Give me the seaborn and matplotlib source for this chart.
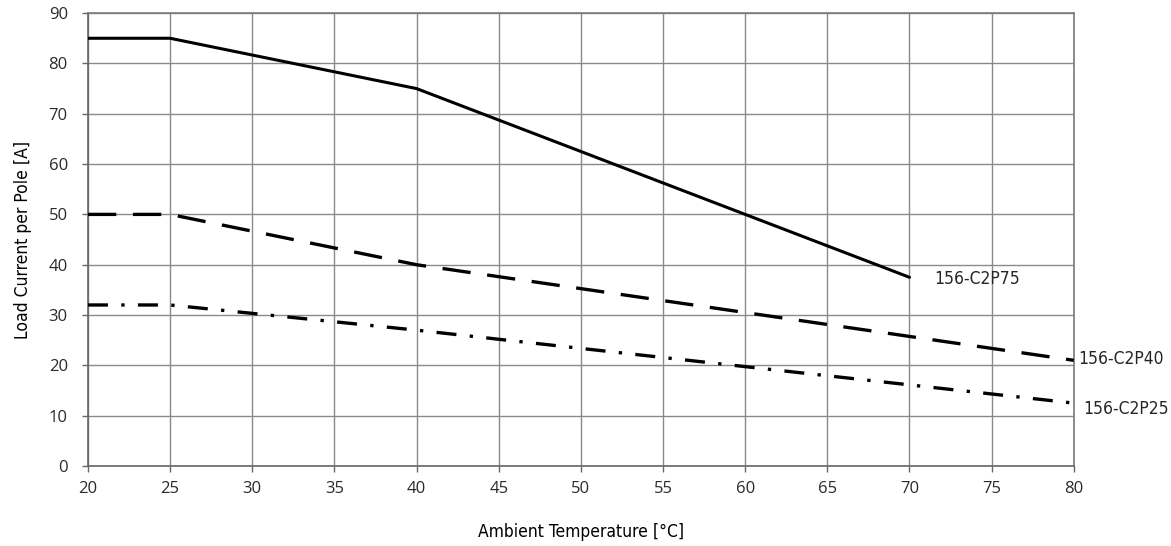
import matplotlib
matplotlib.use("Agg")
import matplotlib.pyplot as plt
import seaborn as sns
import pandas as pd
from matplotlib import font_manager

temps_75 = [20, 25, 40, 70]
load_75 = [85, 85, 75, 37.5]
temps_40 = [20, 25, 40, 80]
load_40 = [50, 50, 40, 21]
temps_25 = [20, 25, 40, 80]
load_25 = [32, 32, 27, 12.5]
series_names = ["156-C2P75", "156-C2P40", "156-C2P25"]
x_ticks = list(range(20, 85, 5))
y_ticks = list(range(0, 100, 10))

sns.set_theme(style="white")
fonts = font_manager.fontManager.ttflist
names = {f.name for f in fonts}
condensed = [f for f in fonts if f.stretch in ("condensed", "semi-condensed", 'extra-condensed', 600, 700) or 'Condensed' in f.fname or 'Narrow' in f.fname]
cond_family = None
for f in condensed:
    if f.style == 'normal' and f.weight in (400, 'normal', 'regular'):
        cond_family = f.name
        cond_stretch = f.stretch
        break
tickfont = "Open Sans" if "Open Sans" in names else "DejaVu Sans"
plt.rcParams['font.family'] = [tickfont, 'DejaVu Sans']

if cond_family is None:
    cond_kw = dict(fontfamily="Liberation Sans", fontstretch="condensed")
    lab_size = 10.5
else:
    cond_kw = dict(fontfamily=cond_family, fontstretch=cond_stretch)
    lab_size = 12

fig = plt.figure(figsize=(11.71, 5.46), dpi=100)
ax = fig.add_axes([0.0751, 0.1465, 0.917 - 0.0751, 0.976 - 0.1465])

df75 = pd.DataFrame({"t": temps_75, "a": load_75})
df40 = pd.DataFrame({"t": temps_40, "a": load_40})
df25 = pd.DataFrame({"t": temps_25, "a": load_25})

sns.lineplot(data=df75, x="t", y="a", ax=ax, color="black", lw=2.2, zorder=3)
sns.lineplot(data=df40, x="t", y="a", ax=ax, color="black", lw=2.4, zorder=3,
             linestyle=(0, (8.5, 5)))
sns.lineplot(data=df25, x="t", y="a", ax=ax, color="black", lw=2.4, zorder=3,
             linestyle=(0, (6, 4, 1, 4)))

ax.set_xlim(20, 80)
ax.set_ylim(0, 90)
ax.set_xticks(x_ticks)
ax.set_yticks(y_ticks)
ax.grid(True, color="#8a8a8a", lw=1)
for s in ax.spines.values():
    s.set_color("#7a7a7a")
    s.set_linewidth(1.2)
ax.spines["left"].set_color("#666666")
ax.spines["bottom"].set_color("#666666")
ax.tick_params(axis="both", which="major", length=4.5, width=1, color="#666666",
               labelsize=12, labelcolor="#2a2a2a", direction="out",
               bottom=True, left=True)
ax.tick_params(axis="x", pad=6)
ax.tick_params(axis="y", pad=10)

ax.set_xlabel("Ambient Temperature [°C]", fontsize=lab_size + 0.5, labelpad=19, color="black", **cond_kw)
ax.set_ylabel("Load Current per Pole [A]", fontsize=lab_size + 0.5, labelpad=12, color="black", **cond_kw)

ax.text(71.5, 37.2, series_names[0], fontsize=lab_size + 0.5, va="center", ha="left", **cond_kw)
ax.text(80.3, 21.3, series_names[1], fontsize=lab_size + 0.5, va="center", ha="left",
        bbox=dict(facecolor="white", edgecolor="none", pad=1.5), clip_on=False, zorder=5, **cond_kw)
ax.text(80.6, 11.4, series_names[2], fontsize=lab_size + 0.5, va="center", ha="left",
        clip_on=False, **cond_kw)

fig.savefig("out.png", dpi=100)
